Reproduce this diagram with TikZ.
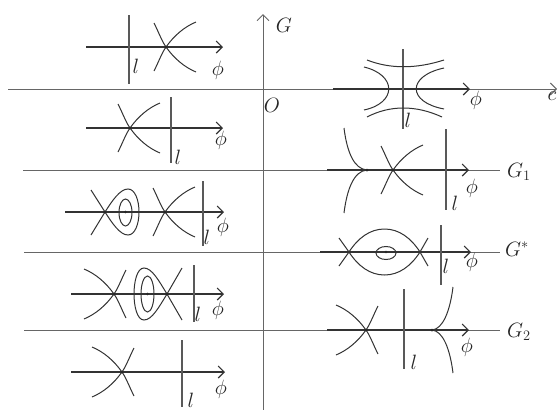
\documentclass[tikz,border=0pt]{standalone}
\usepackage{amsmath,amssymb}
\usetikzlibrary{arrows.meta}
\begin{document}
\begin{tikzpicture}[
    x=1pt, y=-1pt,
    axisline/.style={line width=1pt, black!60},
    axisarrow/.style={axisline, -{Straight Barb[length=6pt,width=12pt]}},
    phiarrow/.style={-{Straight Barb[length=6pt,width=12pt]}, line width=1.1pt, black!80},
    orbit/.style={line width=1pt, black!80},
    lline/.style={line width=1.1pt, black!65},
    dot/.style={fill=black!85},
    lab/.style={font=\fontsize{20}{24}\selectfont, inner sep=0pt, text=black!85},
    pics/saddle/.style={code={
      \draw[orbit] (-12,-24) .. controls (-7,-14) and (-4,-5.6) .. (0,0) .. controls (8,11.2) and (18,20) .. (30,25);
      \draw[orbit] (-12,24) .. controls (-7,14) and (-4,5.6) .. (0,0) .. controls (8,-11.2) and (18,-20) .. (30,-25);
      \fill[dot] (0,0) circle (1.5);
    }}
  ]
    \useasboundingbox (0,0) rectangle (558,410);

    % axes and levels
    \coordinate (Gbot) at (263,410);
    \coordinate (Gtop) at (263,14);
    \coordinate (cleft) at (8,89);
    \coordinate (cright) at (557,89);
    \draw[axisarrow] (Gbot) -- (Gtop);
    \draw[axisarrow] (cleft) -- (cright);
    \draw[axisline] (23,170) -- (500,170);
    \draw[axisline] (24,252) -- (500,252);
    \draw[axisline] (24,330) -- (500,330);
    \node[lab] (G) at (284,25) {$G$};
    \node[lab] (O) at (272,105) {$O$};
    \node[lab] (c) at (552,96) {$c$};
    \node[lab] (G1) at (519,172) {$G_1$};
    \node[lab] (Gs) at (517,249) {$G^{*}$};
    \node[lab] (G2) at (519,332) {$G_2$};

    % left panel 1
    \draw[phiarrow] (86,47) -- (223,47);
    \draw[lline] (129,15) -- (129,84);
    \pic at (166,47) {saddle};
    \node[lab] (l1) at (136,66) {$l$};
    \node[lab] (phi1) at (218,70) {$\phi$};

    % left panel 2
    \draw[phiarrow] (86,128) -- (223,128);
    \draw[lline] (171,97) -- (171,163);
    \pic at (130,128) {saddle};
    \node[lab] (l2) at (178,157) {$l$};
    \node[lab] (phi2) at (221,140) {$\phi$};

    % left panel 3
    \draw[phiarrow] (65,212) -- (224,212);
    \draw[lline] (203,181) -- (203,246);
    \pic at (165,212) {saddle};
    \draw[orbit] (91,190) -- (105,212) .. controls (112,223) and (120,235) .. (128,235)
      .. controls (135,235) and (139,224) .. (139,212) .. controls (139,200) and (135,189) .. (128,189)
      .. controls (120,189) and (112,201) .. (105,212) -- (91,235);
    \draw[orbit] (125.5,212.5) ellipse (6.5 and 13.5);
    \fill[dot] (105,212) circle (1.5);
    \fill[dot] (125.5,212) circle (1.3);
    \node[lab] (l3) at (207,237) {$l$};
    \node[lab] (phi3) at (223,227) {$\phi$};

    % left panel 4
    \draw[phiarrow] (71,294) -- (224,294);
    \draw[lline] (194,265) -- (194,322);
    \pic[xscale=-1] at (114,294) {saddle};
    \draw[orbit] (182,268) -- (167,294) .. controls (159,307) and (152,320) .. (144,320)
      .. controls (137,320) and (134,306) .. (134,294) .. controls (134,282) and (137,268) .. (144,268)
      .. controls (152,268) and (159,281) .. (167,294) -- (182,320);
    \draw[orbit] (147.5,294) ellipse (6.5 and 18);
    \fill[dot] (167,294) circle (1.5);
    \fill[dot] (147.5,294) circle (1.3);
    \node[lab] (l4) at (198,314) {$l$};
    \node[lab] (phi4) at (218,310) {$\phi$};

    % left panel 5
    \draw[phiarrow] (71,372) -- (225,372);
    \draw[lline] (182,340) -- (182,407);
    \pic[xscale=-1] at (122,372) {saddle};
    \node[lab] (l5) at (191,400) {$l$};
    \node[lab] (phi5) at (221,389) {$\phi$};

    % right panel on c
    \draw[phiarrow] (333,89) -- (470,89);
    \draw[lline] (403,49) -- (403,129);
    \draw[orbit] (367,60) .. controls (390,69) and (416,69) .. (444,60);
    \draw[orbit] (367,117) .. controls (390,105) and (416,105) .. (442,117);
    \draw[orbit] (364,67) .. controls (397,75) and (397,103) .. (364,110);
    \draw[orbit] (444,68) .. controls (407,76) and (407,102) .. (444,109);
    \node[lab] (l6) at (408,120) {$l$};
    \node[lab] (phi6) at (476,100) {$\phi$};

    % right panel on G1
    \draw[phiarrow] (327,170) -- (469,170);
    \draw[lline] (446,129) -- (446,210);
    \pic at (393,170) {saddle};
    \draw[orbit] (344,128) .. controls (347,152) and (354,169) .. (367,170);
    \draw[orbit] (344,213) .. controls (347,189) and (354,171) .. (367,170);
    \fill[dot] (367,170) circle (1.5);
    \node[lab] (l7) at (455,203) {$l$};
    \node[lab] (phi7) at (472,188) {$\phi$};

    % right panel on G*
    \draw[phiarrow] (320,252) -- (471,252);
    \draw[lline] (441,225) -- (441,285);
    \draw[orbit] (339,266) -- (349,252) .. controls (358,238) and (370,229) .. (384.5,229)
      .. controls (399,229) and (411,238) .. (420,252) -- (428,266);
    \draw[orbit] (339,238) -- (349,252) .. controls (358,266) and (370,275) .. (384.5,275)
      .. controls (399,275) and (411,266) .. (420,252) -- (428,238);
    \draw[orbit] (386,253) ellipse (10 and 6.5);
    \fill[dot] (386,252) circle (1.3);
    \node[lab] (l8) at (446,266) {$l$};
    \node[lab] (phi8) at (472,262) {$\phi$};

    % right panel on G2
    \draw[phiarrow] (327,330) -- (469,330);
    \draw[lline] (404,289) -- (404,369);
    \pic[xscale=-1] at (366,330) {saddle};
    \draw[orbit] (453,287) .. controls (450,311) and (443,329) .. (432,330);
    \draw[orbit] (453,373) .. controls (450,349) and (443,331) .. (432,330);
    \fill[dot] (432,330) circle (1.5);
    \node[lab] (l9) at (414,362) {$l$};
    \node[lab] (phi9) at (467,347) {$\phi$};
\end{tikzpicture}
\end{document}
